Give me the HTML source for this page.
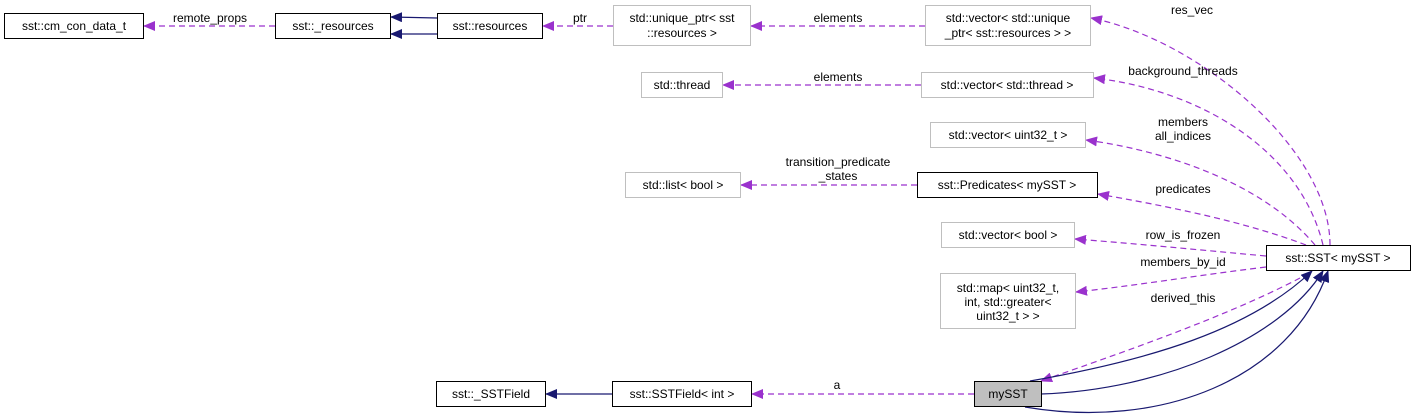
<!DOCTYPE html>
<html><head><meta charset="utf-8"><style>body{margin:0;background:#fff}svg{display:block}text{font-family:"Liberation Sans",sans-serif;font-size:12px;fill:#000}</style></head><body>
<svg width="1415" height="418" viewBox="0 0 1415 418">
<defs>
<marker id="pa" markerWidth="12" markerHeight="10" refX="11" refY="5" orient="auto" markerUnits="userSpaceOnUse"><path d="M0,0 L12,5 L0,10 z" fill="#9a32cd"/></marker>
<marker id="na" markerWidth="12" markerHeight="10" refX="11" refY="5" orient="auto" markerUnits="userSpaceOnUse"><path d="M0,0 L12,5 L0,10 z" fill="#191970"/></marker>
</defs>
<g fill="none" stroke="#9a32cd" stroke-dasharray="6,4" stroke-width="1.2" marker-end="url(#pa)">
<path d="M275,26 L144,26"/>
<path d="M613,26 L543,26"/>
<path d="M925,26 L751,26"/>
<path d="M921,85 L723,85"/>
<path d="M917,185 L741,185"/>
<path d="M974,394 L752,394"/>
<path d="M1330,245 C1330,150 1200,40 1091,18"/>
<path d="M1323,245 C1300,150 1200,90 1094,78"/>
<path d="M1315,245 C1260,180 1160,150 1086,140"/>
<path d="M1306,245 C1240,220 1160,205 1098,194"/>
<path d="M1266,256 C1200,250 1140,244 1075,239"/>
<path d="M1266,267 C1200,275 1140,285 1076,292"/>
<path d="M1300,278 C1220,320 1100,360 1041,381"/>
</g>
<g fill="none" stroke="#191970" stroke-width="1.2" marker-end="url(#na)">
<path d="M437,18 L391,17"/>
<path d="M437,34 L391,34"/>
<path d="M612,394 L546,394"/>
<path d="M1030,381 C1150,360 1250,330 1312,271"/>
<path d="M1041,394 C1160,390 1280,340 1323,271"/>
<path d="M1025,407 C1160,430 1290,380 1328,271"/>
</g>
<g stroke-width="1" fill="#fff">
<rect x="4.5" y="13.5" width="139" height="25" stroke="#000"/>
<rect x="275.5" y="13.5" width="115" height="25" stroke="#000"/>
<rect x="437.5" y="13.5" width="105" height="25" stroke="#000"/>
<rect x="613.5" y="5.5" width="137" height="40" stroke="#bfbfbf"/>
<rect x="925.5" y="5.5" width="165" height="40" stroke="#bfbfbf"/>
<rect x="641.5" y="72.5" width="81" height="25" stroke="#bfbfbf"/>
<rect x="921.5" y="72.5" width="172" height="25" stroke="#bfbfbf"/>
<rect x="930.5" y="122.5" width="155" height="25" stroke="#bfbfbf"/>
<rect x="625.5" y="172.5" width="115" height="25" stroke="#bfbfbf"/>
<rect x="917.5" y="172.5" width="180" height="25" stroke="#000"/>
<rect x="941.5" y="222.5" width="133" height="25" stroke="#bfbfbf"/>
<rect x="940.5" y="273.5" width="135" height="55" stroke="#bfbfbf"/>
<rect x="1266.5" y="245.5" width="144" height="25" stroke="#000"/>
<rect x="436.5" y="381.5" width="109" height="25" stroke="#000"/>
<rect x="612.5" y="381.5" width="139" height="25" stroke="#000"/>
<rect x="974.5" y="381.5" width="67" height="25" stroke="#000" fill="#bfbfbf"/>
</g>
<g text-anchor="middle">
<text x="74" y="30">sst::cm_con_data_t</text>
<text x="333" y="30">sst::_resources</text>
<text x="490" y="30">sst::resources</text>
<text x="682" y="22">std::unique_ptr&lt; sst</text>
<text x="682" y="37">::resources &gt;</text>
<text x="1008" y="22">std::vector&lt; std::unique</text>
<text x="1008" y="37">_ptr&lt; sst::resources &gt; &gt;</text>
<text x="682" y="89">std::thread</text>
<text x="1007" y="89">std::vector&lt; std::thread &gt;</text>
<text x="1008" y="139">std::vector&lt; uint32_t &gt;</text>
<text x="683" y="189">std::list&lt; bool &gt;</text>
<text x="1007" y="189">sst::Predicates&lt; mySST &gt;</text>
<text x="1008" y="239">std::vector&lt; bool &gt;</text>
<text x="1008" y="292">std::map&lt; uint32_t,</text>
<text x="1008" y="306">int, std::greater&lt;</text>
<text x="1008" y="320">uint32_t &gt; &gt;</text>
<text x="1338" y="262">sst::SST&lt; mySST &gt;</text>
<text x="491" y="398">sst::_SSTField</text>
<text x="682" y="398">sst::SSTField&lt; int &gt;</text>
<text x="1008" y="398">mySST</text>
<text x="210" y="22">remote_props</text>
<text x="580" y="22">ptr</text>
<text x="838" y="22">elements</text>
<text x="838" y="81">elements</text>
<text x="838" y="166">transition_predicate</text>
<text x="838" y="180">_states</text>
<text x="837" y="389">a</text>
<text x="1192" y="14">res_vec</text>
<text x="1183" y="75">background_threads</text>
<text x="1183" y="126">members</text>
<text x="1183" y="140">all_indices</text>
<text x="1183" y="193">predicates</text>
<text x="1183" y="239">row_is_frozen</text>
<text x="1183" y="266">members_by_id</text>
<text x="1183" y="302">derived_this</text>
</g>
</svg>
</body></html>
